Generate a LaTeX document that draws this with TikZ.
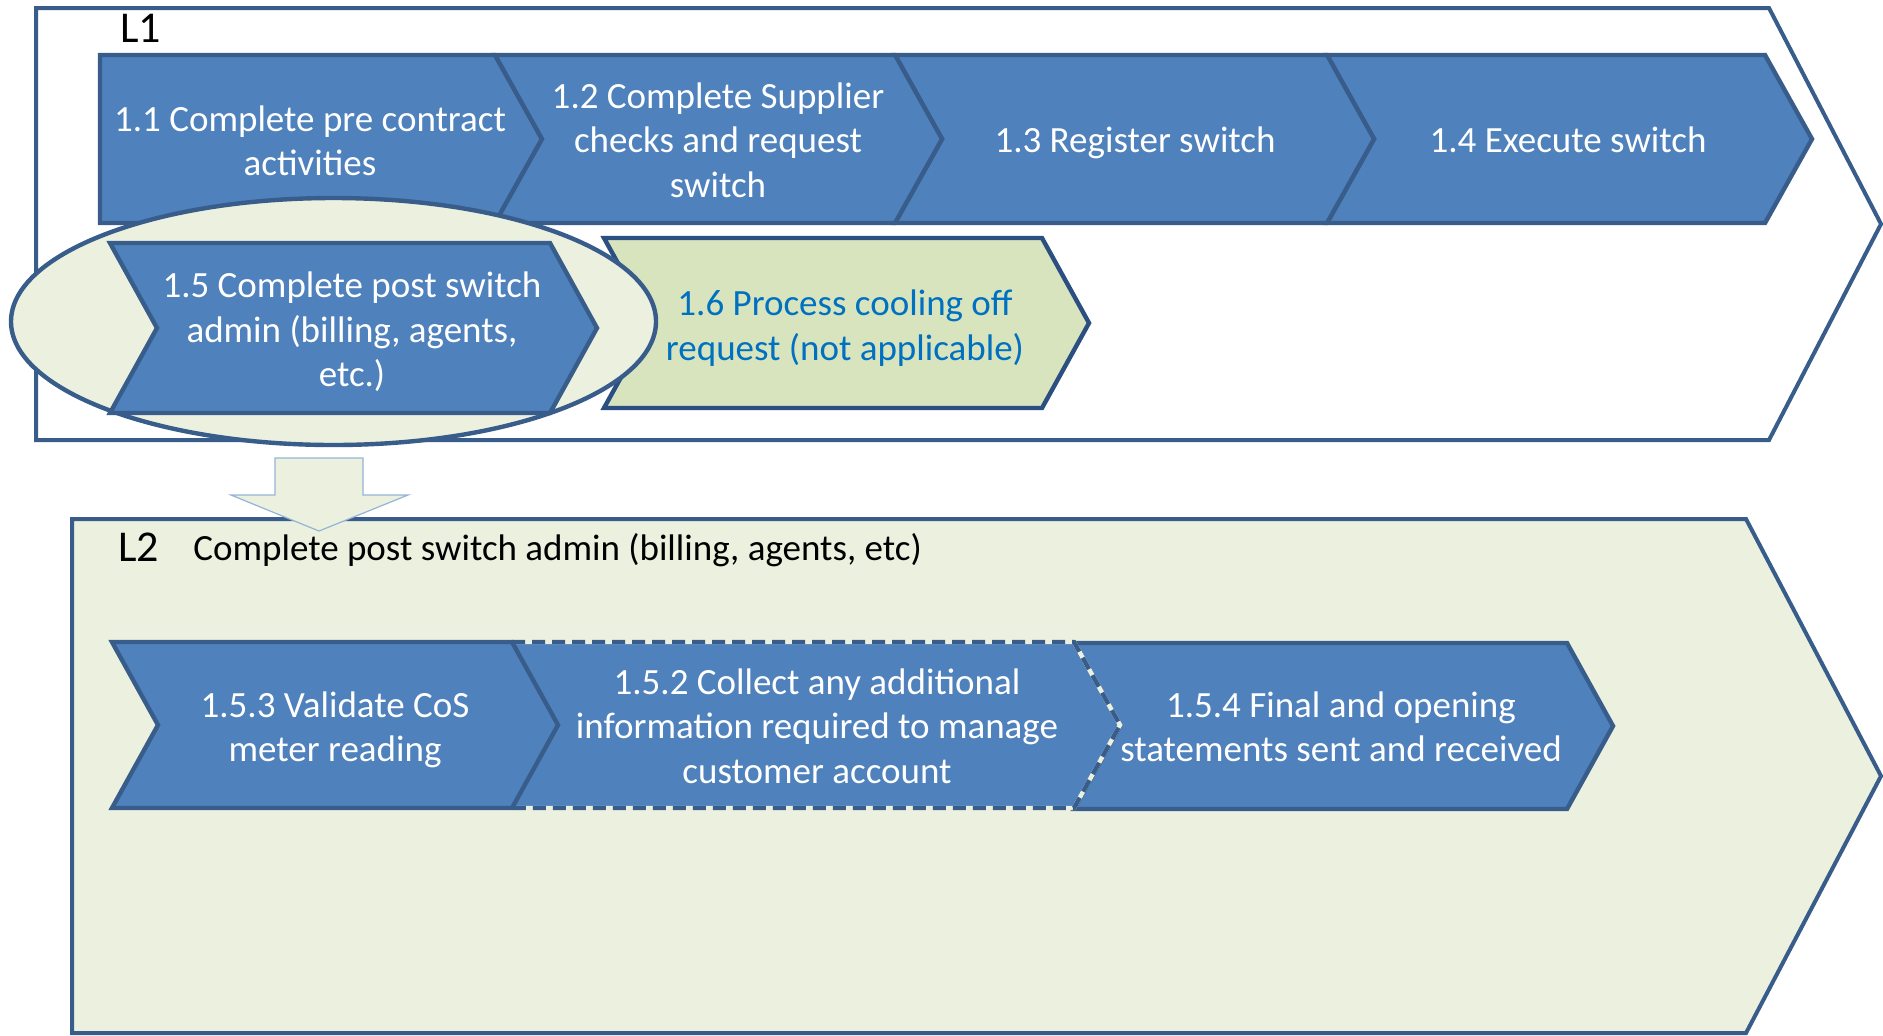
\documentclass[tikz,border=0pt]{standalone}
\usepackage{fontspec}
\setmainfont{Carlito}
\definecolor{boxblue}{HTML}{4F81BD}
\definecolor{edgeblue}{HTML}{385D8A}
\definecolor{palegreen}{HTML}{EBF1DE}
\definecolor{midgreen}{HTML}{D7E4BD}
\definecolor{navyedge}{HTML}{2A4F80}
\definecolor{textblue}{HTML}{0070C0}
\definecolor{arrowedge}{HTML}{95B3D7}
\begin{document}
\begin{tikzpicture}[x=0.5pt,y=-0.5pt,
  chev/.style={fill=boxblue,draw=edgeblue,line width=2.2pt,line join=miter},
  greenchev/.style={fill=midgreen,draw=navyedge,line width=2.2pt,line join=miter},
  framebox/.style={draw=edgeblue,line width=2pt,line join=miter},
  lbl/.style={align=center,text=white,inner sep=0pt,font=\fontsize{18.5}{22.2}\selectfont},
  bluelbl/.style={lbl,text=textblue},
  titlelbl/.style={inner sep=0pt,anchor=base west,text=black,font=\fontsize{18.5}{22.2}\selectfont},
  levellbl/.style={inner sep=0pt,anchor=base west,text=black,font=\fontsize{22}{26}\selectfont}]
\useasboundingbox (0,0) rectangle (1883,1035);

% L1 frame
\draw[framebox,fill=white] (36,8) -- (1769,8) -- (1881,224) -- (1769,440) -- (36,440) -- cycle;

% Row 1
\draw[chev] (100,55) -- (495,55) -- (542,139) -- (495,223) -- (100,223) -- cycle;
\draw[chev] (1327,55) -- (1765,55) -- (1812,139) -- (1765,223) -- (1327,223) -- (1374,139) -- cycle;
\draw[chev] (895,55) -- (1327,55) -- (1374,139) -- (1327,223) -- (895,223) -- (942,139) -- cycle;
\draw[chev] (495,55) -- (895,55) -- (942,139) -- (895,223) -- (495,223) -- (542,139) -- cycle;

% 1.6
\draw[greenchev] (604,238) -- (1042,238) -- (1089,323) -- (1042,408) -- (604,408) -- (651,323) -- cycle;

% highlight ellipse
\draw[fill=palegreen,draw=edgeblue,line width=2.2pt] (333.5,321.5) ellipse [x radius=161.25pt, y radius=61.75pt];

% 1.5
\draw[chev] (110,243) -- (550,243) -- (597,328) -- (550,413) -- (110,413) -- (157,328) -- cycle;

% L2 frame
\draw[framebox,fill=palegreen] (72,519) -- (1746,519) -- (1881,776) -- (1746,1033) -- (72,1033) -- cycle;

% Row 3
\draw[chev] (1074,643) -- (1567,643) -- (1613,726) -- (1567,809) -- (1074,809) -- (1120,726) -- cycle;
\fill[boxblue] (512,642) -- (1074,642) -- (1120,725) -- (1074,808) -- (512,808) -- (558,725) -- cycle;
\draw[draw=palegreen,line width=2.2pt] (512,642) -- (1074,642) -- (1120,725) -- (1074,808) -- (512,808);
\draw[draw=edgeblue,line width=2.2pt,dash pattern=on 6.5pt off 3.5pt] (512,642) -- (1074,642) -- (1120,725) -- (1074,808) -- (512,808);
\draw[chev] (112,642) -- (512,642) -- (558,725) -- (512,808) -- (112,808) -- (158,725) -- cycle;

% down block arrow
\draw[fill=palegreen,draw=arrowedge,line width=0.6pt,line join=miter] (275,458) -- (363,458) -- (363,495) -- (408,495) -- (319,531) -- (231,495) -- (275,495) -- cycle;

% texts
\node[levellbl] (l1) at (120,42) {L1};
\node[levellbl] (l2) at (118,561) {L2};
\node[titlelbl] (l2title) at (193,560) {Complete post switch admin (billing, agents, etc)};

\node[lbl] (t11) at (310,141) {1.1 Complete pre contract\\activities};
\node[lbl] (t12) at (718,140) {1.2 Complete Supplier\\checks and request\\switch};
\node[lbl,anchor=base] (t13) at (1135,152) {1.3 Register switch};
\node[lbl,anchor=base] (t14) at (1568,152) {1.4 Execute switch};
\node[lbl] (t15) at (352,332) {1.5 Complete post switch\\admin (billing, agents,\\etc.)};
\node[bluelbl] (t16) at (845,328) {1.6 Process cooling off\\request (not applicable)};
\node[lbl] (t153) at (335,730) {1.5.3 Validate CoS\\meter reading};
\node[lbl] (t152) at (817,726) {1.5.2 Collect any additional\\information required to manage\\customer account};
\node[lbl] (t154) at (1341,727) {1.5.4 Final and opening\\statements sent and received};
\end{tikzpicture}
\end{document}
